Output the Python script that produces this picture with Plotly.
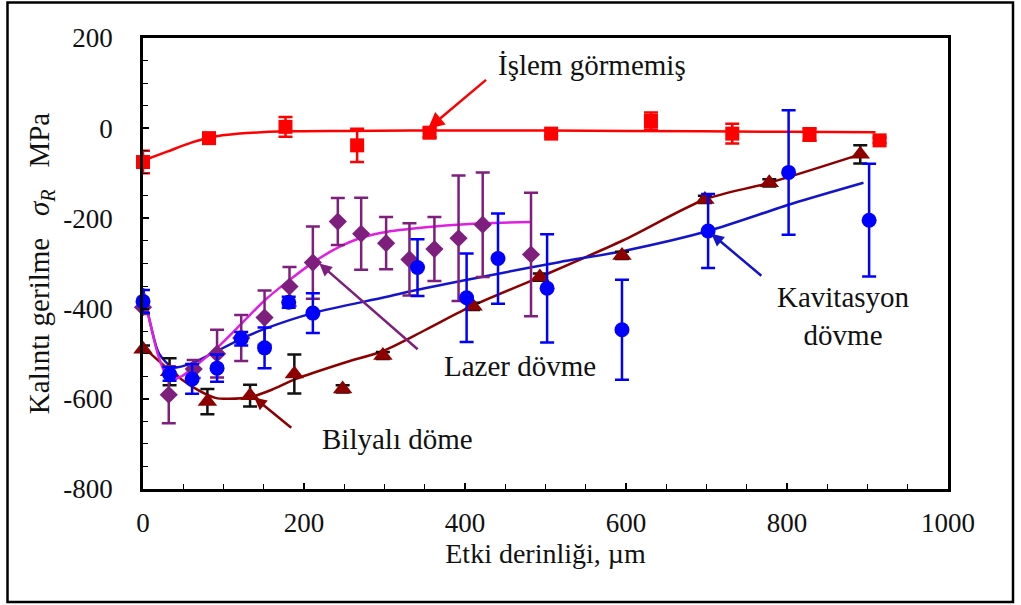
import plotly.graph_objects as go

# ---- measured residual stress profiles (depth in µm, stress in MPa) ----
# Untreated ("İşlem görmemiş")
untreated_x = [0, 82, 177, 266, 356, 507, 631, 732, 828, 915]
untreated_y = [-75, -22, 3, -38, -10, -12, 16, -12, -14, -27]
untreated_err = [25, 6, 22, 37, 10, 6, 19, 22, 14, 6]

# Cavitation peening ("Kavitasyon dövme")
cavitation_x = [0, 33, 61, 92, 122, 151, 181, 211, 341, 402, 441, 502, 595, 702, 802, 902]
cavitation_y = [-384, -545, -556, -532, -467, -487, -386, -410, -309, -376, -289, -355, -447, -228, -98, -204]
cavitation_err = [25, 15, 33, 30, 15, 45, 12, 44, 63, 98, 100, 120, 111, 82, 138, 125]

# Laser peening ("Lazer dövme")
laser_x = [0, 32, 63, 92, 122, 151, 182, 211, 242, 271, 302, 331, 362, 392, 422, 482]
laser_y = [-397, -591, -534, -500, -465, -420, -351, -298, -207, -234, -255, -291, -268, -244, -214, -280]
laser_err = [15, 63, 20, 53, 51, 60, 43, 80, 52, 80, 58, 80, 71, 139, 116, 137]

# Shot peening ("Bilyalı döme")
shot_x = [0, 33, 80, 133, 188, 248, 298, 410, 493, 595, 698, 778, 891]
shot_y = [-490, -540, -606, -593, -545, -578, -504, -395, -330, -282, -158, -121, -58]
shot_err = [8, 30, 28, 24, 43, 8, 8, 8, 8, 8, 8, 8, 20]

# ---- fitted trend curves ----
untreated_fit_x = [0, 30, 60, 82, 120, 180, 250, 400, 600, 800, 910]
untreated_fit_y = [-72, -52, -32, -21, -12, -7, -6, -5, -6, -8, -9]

cavitation_fit_x = [0, 10, 20, 37, 60, 80, 122, 151, 211, 300, 350, 443, 517, 600, 702, 807, 895]
cavitation_fit_y = [-355, -440, -500, -530, -522, -505, -467, -445, -410, -375, -355, -322, -297, -271, -228, -167, -121]

laser_fit_x = [0, 10, 20, 33, 48, 63, 92, 122, 151, 181, 211, 242, 271, 302, 362, 422, 481]
laser_fit_y = [-365, -440, -510, -558, -550, -530, -487, -434, -382, -338, -298, -265, -243, -230, -218, -211, -208]

shot_fit_x = [0, 30, 60, 90, 107, 134, 160, 190, 250, 298, 350, 410, 493, 596, 698, 778, 891]
shot_fit_y = [-485, -532, -572, -598, -600, -596, -580, -556, -520, -494, -448, -393, -330, -249, -158, -121, -58]

# ---- axis ticks ----
x_tickvals = [0, 200, 400, 600, 800, 1000]
x_ticktext = ["0", "200", "400", "600", "800", "1000"]
y_tickvals = [-800, -600, -400, -200, 0, 200]
y_ticktext = ["-800", "-600", "-400", "-200", "0", "200"]

FONT = "Liberation Serif, Times New Roman, serif"

RED = "#ff0000"
BLUE = "#0000ff"
BLUE_LINE = "#1414c8"
PURPLE = "#7e1f7e"
MAGENTA = "#e020e0"
DARKRED = "#8c0000"

fig = go.Figure()


def add_fit(x, y, color):
    fig.add_trace(go.Scatter(
        x=x, y=y, mode="lines",
        line=dict(color=color, width=2.5, shape="spline", smoothing=0.8),
        hoverinfo="skip", showlegend=False, cliponaxis=False,
    ))


def add_points(x, y, err, color, symbol, err_color, size=14):
    fig.add_trace(go.Scatter(
        x=x, y=y, mode="markers",
        marker=dict(color=color, symbol=symbol, size=size, line=dict(width=0)),
        error_y=dict(type="data", array=err, visible=True,
                     color=err_color, thickness=2.5, width=7),
        showlegend=False, cliponaxis=False,
    ))


add_fit(shot_fit_x, shot_fit_y, DARKRED)
add_fit(cavitation_fit_x, cavitation_fit_y, BLUE_LINE)
add_fit(laser_fit_x, laser_fit_y, MAGENTA)
add_fit(untreated_fit_x, untreated_fit_y, RED)

add_points(shot_x, shot_y, shot_err, DARKRED, "triangle-up", "#111111", size=17)
add_points(laser_x, laser_y, laser_err, PURPLE, "diamond", PURPLE, size=14)
add_points(cavitation_x, cavitation_y, cavitation_err, BLUE, "circle", BLUE, size=15)
add_points(untreated_x, untreated_y, untreated_err, RED, "square", RED, size=14)

# ---- labels with leader arrows ----
labels = [
    dict(text="İşlem görmemiş", x=558, y=140, color=RED,
         tail=(428, 110), head=(354, -1), size=1.3),
    dict(text="Lazer dövme", x=468, y=-527, color=PURPLE,
         tail=(343, -493), head=(219, -300), size=1.0),
    dict(text="Bilyalı döme", x=316, y=-689, color=DARKRED,
         tail=(186, -667), head=(138, -597), size=1.0),
    dict(text="Kavitasyon<br>dövme", x=870, y=-416, color=BLUE_LINE,
         tail=(770, -330), head=(706, -234), size=1.0),
]
for lab in labels:
    fig.add_annotation(
        x=lab["x"], y=lab["y"], xref="x", yref="y", text=lab["text"],
        showarrow=False, font=dict(family=FONT, size=29, color="#111111"),
        align="center",
    )
    fig.add_annotation(
        x=lab["head"][0], y=lab["head"][1], ax=lab["tail"][0], ay=lab["tail"][1],
        xref="x", yref="y", axref="x", ayref="y", text="",
        showarrow=True, arrowhead=2, arrowsize=lab["size"], arrowwidth=2.5,
        arrowcolor=lab["color"],
    )

# outer frame around the figure
L, R, T, B = 143, 73, 38, 116
PW, PH = 1021 - L - R, 605 - T - B


def px_x(px):
    return (px - L) / PW


def px_y(py):
    return (605 - B - py) / PH


fig.add_shape(type="rect", xref="paper", yref="paper",
              x0=px_x(7.5), x1=px_x(1013), y0=px_y(602), y1=px_y(2.5),
              line=dict(color="black", width=2.5), layer="below")

axis_common = dict(
    showgrid=False, zeroline=False, showline=True, linecolor="black",
    linewidth=2.5, mirror=True, ticks="inside", tickcolor="black",
    ticklen=6, tickwidth=1.5,
    tickfont=dict(family=FONT, size=27, color="#111111"),
)

fig.update_xaxes(
    range=[0, 1000], tickmode="array", tickvals=x_tickvals, ticktext=x_ticktext,
    minor=dict(dtick=50, tick0=0, ticks="inside", ticklen=5, tickcolor="black", tickwidth=1.2),
    ticklabelstandoff=8,
    title=dict(text="Etki derinliği, µm", font=dict(family=FONT, size=28, color="#111111"),
               standoff=6),
    **axis_common,
)
fig.update_yaxes(
    range=[-800, 200], tickmode="array", tickvals=y_tickvals, ticktext=y_ticktext,
    minor=dict(dtick=50, tick0=0, ticks="inside", ticklen=5, tickcolor="black", tickwidth=1.2),
    ticklabelstandoff=22,
    title=dict(text="Kalıntı gerilme\u00a0\u00a0\u00a0<i>σ</i><sub><i>R</i></sub>\u00a0\u00a0\u00a0MPa",
               font=dict(family=FONT, size=29, color="#111111"), standoff=6),
    **axis_common,
)

fig.update_layout(
    width=1021, height=605,
    margin=dict(l=L, r=R, t=T, b=B, autoexpand=False),
    paper_bgcolor="white", plot_bgcolor="white",
    showlegend=False,
    font=dict(family=FONT),
)

fig.write_html("out.html")
